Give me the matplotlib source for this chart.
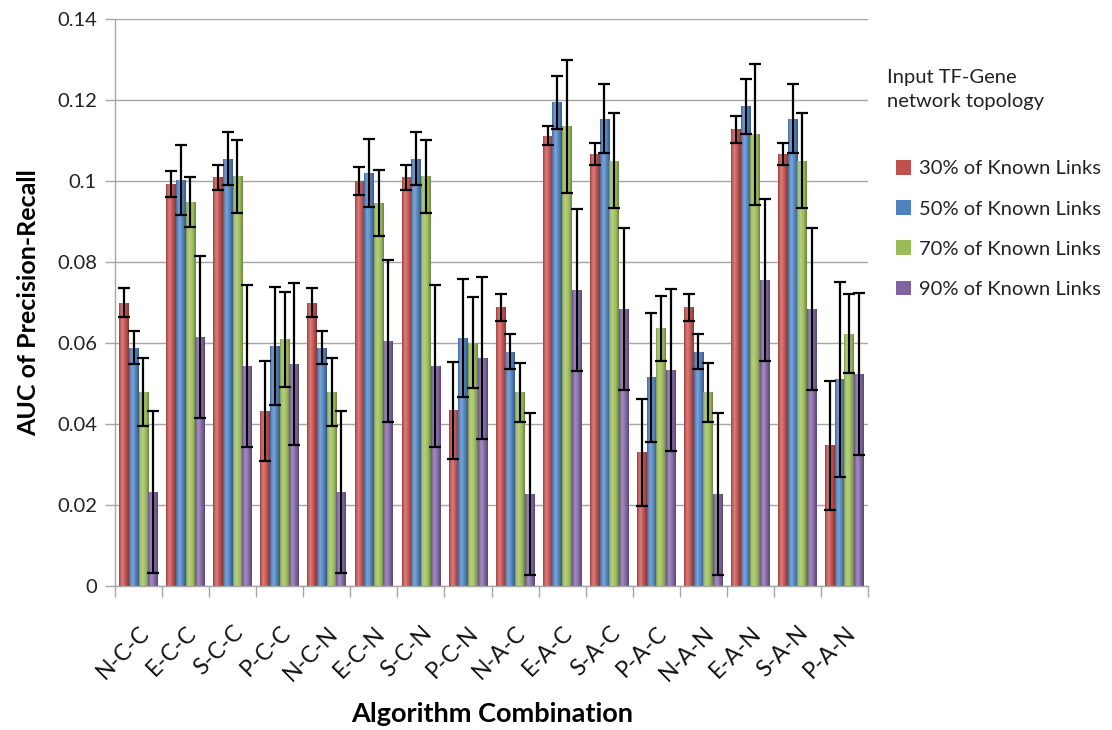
import numpy as np
import matplotlib
matplotlib.use("Agg")
import matplotlib.pyplot as plt
from matplotlib.colors import to_rgb
from matplotlib.patches import Patch

categories = ["N-C-C", "E-C-C", "S-C-C", "P-C-C", "N-C-N", "E-C-N", "S-C-N", "P-C-N",
              "N-A-C", "E-A-C", "S-A-C", "P-A-C", "N-A-N", "E-A-N", "S-A-N", "P-A-N"]
series_names = ["30% of Known Links", "50% of Known Links",
                "70% of Known Links", "90% of Known Links"]

v30 = [0.0700, 0.0993, 0.1009, 0.0432, 0.0700, 0.1000, 0.1009, 0.0434,
       0.0688, 0.1112, 0.1067, 0.0330, 0.0688, 0.1128, 0.1067, 0.0347]
e30 = [0.0037, 0.0032, 0.0030, 0.0123, 0.0037, 0.0034, 0.0030, 0.0120,
       0.0034, 0.0023, 0.0028, 0.0132, 0.0034, 0.0033, 0.0028, 0.0160]
v50 = [0.0588, 0.1003, 0.1055, 0.0593, 0.0588, 0.1019, 0.1055, 0.0612,
       0.0579, 0.1194, 0.1154, 0.0515, 0.0579, 0.1185, 0.1154, 0.0510]
e50 = [0.0041, 0.0087, 0.0065, 0.0146, 0.0041, 0.0084, 0.0065, 0.0145,
       0.0042, 0.0066, 0.0085, 0.0160, 0.0042, 0.0068, 0.0085, 0.0240]
v70 = [0.0479, 0.0949, 0.1012, 0.0609, 0.0479, 0.0945, 0.1012, 0.0601,
       0.0478, 0.1135, 0.1050, 0.0636, 0.0478, 0.1115, 0.1050, 0.0623]
e70 = [0.0084, 0.0062, 0.0090, 0.0118, 0.0084, 0.0082, 0.0090, 0.0112,
       0.0072, 0.0165, 0.0117, 0.0081, 0.0072, 0.0174, 0.0117, 0.0097]
v90 = [0.0232, 0.0616, 0.0542, 0.0548, 0.0232, 0.0604, 0.0542, 0.0563,
       0.0227, 0.0732, 0.0683, 0.0533, 0.0227, 0.0755, 0.0683, 0.0524]
e90 = [0.0200, 0.0200, 0.0200, 0.0200, 0.0200, 0.0200, 0.0200, 0.0200,
       0.0200, 0.0200, 0.0200, 0.0200, 0.0200, 0.0200, 0.0200, 0.0200]

values = [v30, v50, v70, v90]
errors = [e30, e50, e70, e90]
colors = ["#C0504D", "#4F81BD", "#9BBB59", "#8064A2"]

plt.rcParams['font.family'] = ['Lato', 'DejaVu Sans']

fig = plt.figure(figsize=(11.12, 7.30), dpi=100)
ax = fig.add_axes([115/1112, 1 - 586/730, (868 - 115)/1112, (586 - 19)/730])

x = np.arange(len(categories))
bw = 0.205
offsets = (np.arange(4) - 1.5) * bw


def gradient_img(c):
    r = np.array(to_rgb(c))
    t = np.linspace(0, 1, 64)
    prof = np.interp(t, [0, 0.08, 0.35, 0.7, 1.0], [-0.25, 0.0, 0.28, 0.0, -0.30])
    img = np.zeros((1, len(t), 3))
    for i, p in enumerate(prof):
        if p >= 0:
            img[0, i] = r + (1 - r) * p
        else:
            img[0, i] = r * (1 + p)
    return img


for k in range(4):
    bars = ax.bar(x + offsets[k], values[k], width=bw, color=colors[k],
                  zorder=2, label=series_names[k], linewidth=0)
    img = gradient_img(colors[k])
    for b in bars:
        x0, w, h = b.get_x(), b.get_width(), b.get_height()
        im = ax.imshow(img, extent=(x0, x0 + w, 0, h), aspect='auto',
                       zorder=2.5, interpolation='bilinear')
        im.set_clip_path(b)
    ax.errorbar(x + offsets[k], values[k], yerr=errors[k], fmt='none',
                ecolor='black', elinewidth=1.6, capsize=4, capthick=1.6, zorder=4)

ax.set_xlim(-0.5, len(categories) - 0.5)
ax.set_ylim(0, 0.14)
ax.set_yticks(np.arange(0, 0.141, 0.02))
ax.set_yticklabels(["0", "0.02", "0.04", "0.06", "0.08", "0.1", "0.12", "0.14"])
ax.yaxis.grid(True, color='#A6A6A6', linewidth=1.0, zorder=0)
ax.set_axisbelow(True)

ax.set_xticks(x)
ax.set_xticklabels(categories, rotation=45, ha='right', rotation_mode='anchor',
                   fontsize=16.5, color='#111111')
ax.set_xticks(np.arange(-0.5, len(categories)), minor=True)
ax.tick_params(axis='x', which='major', length=0, pad=26)
ax.tick_params(axis='x', which='minor', length=8, color='#A6A6A6', width=1)
ax.tick_params(axis='y', length=7, color='#A6A6A6', width=1, labelsize=14.5, pad=6,
               labelcolor='#222222')

for s in ['top', 'right']:
    ax.spines[s].set_visible(False)
for s in ['left', 'bottom']:
    ax.spines[s].set_color('#A6A6A6')
    ax.spines[s].set_linewidth(1.0)

ax.set_ylabel("AUC of Precision-Recall", fontsize=18, fontweight='bold', labelpad=12)
fig.text(492/1112, 1 - 714/730, "Algorithm Combination", fontsize=19.5,
         fontweight='bold', ha='center', va='center')

fig.text(887/1112, 1 - 90/730, "Input TF-Gene\nnetwork topology", fontsize=14.5,
         ha='left', va='center', linespacing=1.5, color='#222222')

handles = [Patch(facecolor=c, edgecolor='none') for c in colors]
leg = fig.legend(handles, series_names, loc='upper left',
                 bbox_to_anchor=(888/1112, 1 - 152/730), frameon=False,
                 fontsize=14.5, labelspacing=1.13, handlelength=0.75, handleheight=0.75,
                 handletextpad=0.4, borderaxespad=0)
for t in leg.get_texts():
    t.set_color('#222222')

fig.savefig("out.png", dpi=100)
